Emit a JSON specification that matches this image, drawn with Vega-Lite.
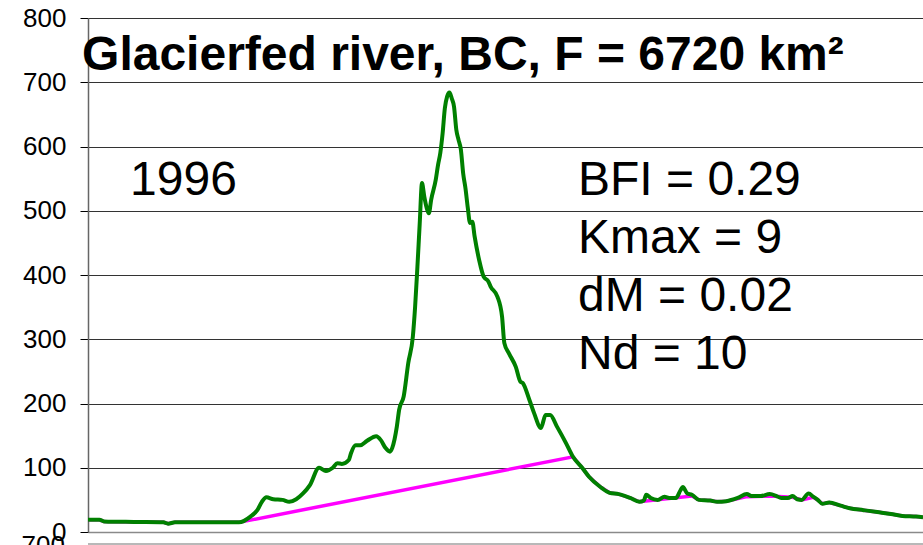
{
  "$schema": "https://vega.github.io/schema/vega-lite/v6.json",
  "width": 835,
  "height": 514,
  "autosize": {"type": "none"},
  "padding": {"left": 88, "top": 18, "right": 0, "bottom": 13},
  "background": "white",
  "config": {
    "view": {"stroke": null},
    "font": "Liberation Sans"
  },
  "datasets": {
    "flow": [
      {"day": 1, "q": 19}, {"day": 6, "q": 19}, {"day": 8, "q": 16.5}, {"day": 21, "q": 15.6},
      {"day": 34, "q": 15}, {"day": 36, "q": 13}, {"day": 39, "q": 15}, {"day": 67, "q": 15},
      {"day": 72, "q": 24}, {"day": 75, "q": 34}, {"day": 77, "q": 47}, {"day": 79, "q": 54},
      {"day": 82, "q": 51}, {"day": 86, "q": 50}, {"day": 89, "q": 47}, {"day": 92, "q": 51},
      {"day": 95, "q": 60}, {"day": 98, "q": 73}, {"day": 102, "q": 100}, {"day": 105, "q": 95},
      {"day": 108, "q": 100}, {"day": 110, "q": 107}, {"day": 112, "q": 106}, {"day": 115, "q": 112},
      {"day": 116, "q": 123}, {"day": 118, "q": 135}, {"day": 120, "q": 135}, {"day": 123, "q": 142},
      {"day": 127, "q": 149}, {"day": 129, "q": 143}, {"day": 131, "q": 131}, {"day": 133, "q": 125},
      {"day": 134, "q": 131}, {"day": 136, "q": 164}, {"day": 137, "q": 190}, {"day": 139, "q": 211},
      {"day": 141, "q": 263}, {"day": 143, "q": 304}, {"day": 144, "q": 351}, {"day": 145, "q": 413},
      {"day": 146, "q": 480}, {"day": 147, "q": 543}, {"day": 148, "q": 522}, {"day": 149, "q": 505},
      {"day": 150, "q": 496}, {"day": 151, "q": 517}, {"day": 153, "q": 548}, {"day": 154, "q": 571},
      {"day": 155, "q": 590}, {"day": 156, "q": 620}, {"day": 157, "q": 660}, {"day": 158, "q": 678},
      {"day": 159, "q": 684}, {"day": 160, "q": 675}, {"day": 161, "q": 662}, {"day": 162, "q": 626},
      {"day": 163, "q": 610}, {"day": 164, "q": 595}, {"day": 165, "q": 558}, {"day": 166, "q": 535},
      {"day": 167, "q": 505}, {"day": 168, "q": 481}, {"day": 169, "q": 483}, {"day": 170, "q": 460},
      {"day": 172, "q": 423}, {"day": 174, "q": 397}, {"day": 176, "q": 390}, {"day": 177, "q": 382},
      {"day": 180, "q": 366}, {"day": 182, "q": 335}, {"day": 183, "q": 294}, {"day": 185, "q": 278},
      {"day": 188, "q": 257}, {"day": 190, "q": 234}, {"day": 191, "q": 232}, {"day": 194, "q": 205},
      {"day": 196, "q": 185}, {"day": 199, "q": 162}, {"day": 201, "q": 182}, {"day": 203, "q": 182},
      {"day": 206, "q": 164}, {"day": 210, "q": 138}, {"day": 213, "q": 117}, {"day": 217, "q": 100},
      {"day": 220, "q": 86}, {"day": 225, "q": 70}, {"day": 229, "q": 61}, {"day": 233, "q": 59},
      {"day": 238, "q": 53}, {"day": 242, "q": 47}, {"day": 244, "q": 49}, {"day": 245, "q": 58},
      {"day": 247, "q": 53}, {"day": 250, "q": 50}, {"day": 253, "q": 55}, {"day": 255, "q": 53},
      {"day": 258, "q": 53}, {"day": 260, "q": 65}, {"day": 261, "q": 70}, {"day": 263, "q": 60},
      {"day": 265, "q": 58}, {"day": 268, "q": 50}, {"day": 273, "q": 49}, {"day": 276, "q": 47},
      {"day": 280, "q": 48}, {"day": 285, "q": 53}, {"day": 289, "q": 59}, {"day": 291, "q": 56},
      {"day": 295, "q": 56}, {"day": 299, "q": 59}, {"day": 302, "q": 56}, {"day": 304, "q": 53},
      {"day": 307, "q": 53}, {"day": 309, "q": 56}, {"day": 311, "q": 51}, {"day": 313, "q": 50},
      {"day": 316, "q": 60}, {"day": 318, "q": 55}, {"day": 320, "q": 50}, {"day": 322, "q": 44},
      {"day": 325, "q": 46}, {"day": 330, "q": 41}, {"day": 334, "q": 37}, {"day": 340, "q": 34},
      {"day": 346, "q": 31}, {"day": 352, "q": 28}, {"day": 357, "q": 25}, {"day": 363, "q": 24},
      {"day": 366, "q": 23}
    ],
    "baseflow": [
      {"day": 1, "q": 19}, {"day": 6, "q": 19}, {"day": 8, "q": 16.5}, {"day": 21, "q": 15.6},
      {"day": 34, "q": 15}, {"day": 36, "q": 13}, {"day": 39, "q": 15}, {"day": 67, "q": 15},
      {"day": 213, "q": 117}, {"day": 217, "q": 100}, {"day": 220, "q": 86}, {"day": 225, "q": 70},
      {"day": 229, "q": 61}, {"day": 233, "q": 59}, {"day": 238, "q": 53}, {"day": 242, "q": 47},
      {"day": 265, "q": 56}, {"day": 268, "q": 50}, {"day": 273, "q": 49}, {"day": 276, "q": 47},
      {"day": 280, "q": 48}, {"day": 289, "q": 55}, {"day": 299, "q": 56}, {"day": 309, "q": 54},
      {"day": 313, "q": 50}, {"day": 318, "q": 54}, {"day": 320, "q": 50}, {"day": 322, "q": 44},
      {"day": 325, "q": 46}, {"day": 330, "q": 41}, {"day": 334, "q": 37}, {"day": 340, "q": 34},
      {"day": 346, "q": 31}, {"day": 352, "q": 28}, {"day": 357, "q": 25}, {"day": 363, "q": 24},
      {"day": 366, "q": 23}
    ],
    "notes": [
      {"label": "Glacierfed river, BC, F = 6720 km²"},
      {"label": "1996"},
      {"label": "BFI = 0.29"},
      {"label": "Kmax = 9"},
      {"label": "dM = 0.02"},
      {"label": "Nd = 10"},
      {"label": "700"}
    ]
  },
  "resolve": {"scale": {"x": "shared", "y": "shared"}},
  "layer": [
    {
      "data": {"name": "baseflow"},
      "mark": {"type": "line", "color": "#ff00ff", "strokeWidth": 3.5, "interpolate": "linear"},
      "encoding": {
        "x": {
          "field": "day", "type": "quantitative",
          "scale": {"domain": [1, 366], "nice": false, "zero": false},
          "axis": {"title": null, "labels": false, "ticks": false, "grid": false, "domain": true, "domainColor": "#8a8a8a", "domainWidth": 1.5}
        },
        "y": {
          "field": "q", "type": "quantitative",
          "scale": {"domain": [0, 800], "nice": false},
          "axis": {
            "title": null,
            "values": [0, 100, 200, 300, 400, 500, 600, 700, 800],
            "labelFont": "Liberation Sans", "labelFontSize": 26, "labelColor": "black",
            "labelPadding": 14, "tickSize": 8, "tickColor": "black", "tickWidth": 1,
            "domainColor": "#666", "domainWidth": 1.5,
            "grid": true,
            "gridColor": {"condition": {"test": "datum.value === 0", "value": "#8a8a8a"}, "value": "#333"},
            "gridWidth": 1
          }
        }
      }
    },
    {
      "data": {"name": "flow"},
      "mark": {"type": "line", "color": "#008000", "strokeWidth": 4, "interpolate": "monotone", "strokeJoin": "round"},
      "encoding": {
        "x": {"field": "day", "type": "quantitative"},
        "y": {"field": "q", "type": "quantitative"}
      }
    },
    {
      "data": {"name": "notes"},
      "transform": [{"filter": "datum.label === '700'"}],
      "mark": {"type": "rule", "color": "#a0a0a0", "strokeWidth": 1.5, "clip": false},
      "encoding": {"y": {"datum": -18.7}}
    },
    {
      "data": {"name": "notes"},
      "transform": [{"filter": "datum.label === '700'"}],
      "mark": {"type": "text", "fontSize": 26, "align": "right", "baseline": "alphabetic", "color": "black", "font": "Liberation Sans"},
      "encoding": {"x": {"datum": -9.05}, "y": {"datum": -33.6}, "text": {"field": "label"}}
    },
    {
      "data": {"name": "notes"},
      "transform": [{"filter": "indexof(datum.label, 'Glacierfed') === 0"}],
      "mark": {"type": "text", "fontSize": 48, "fontWeight": "bold", "align": "left", "baseline": "alphabetic", "color": "black", "font": "Liberation Sans"},
      "encoding": {"x": {"datum": -1.6}, "y": {"datum": 719}, "text": {"field": "label"}}
    },
    {
      "data": {"name": "notes"},
      "transform": [{"filter": "datum.label === '1996'"}],
      "mark": {"type": "text", "fontSize": 48, "align": "left", "baseline": "alphabetic", "color": "black", "font": "Liberation Sans"},
      "encoding": {"x": {"datum": 19.4}, "y": {"datum": 524.5}, "text": {"field": "label"}}
    },
    {
      "data": {"name": "notes"},
      "transform": [{"filter": "datum.label === 'BFI = 0.29'"}],
      "mark": {"type": "text", "fontSize": 48, "align": "left", "baseline": "alphabetic", "color": "black", "font": "Liberation Sans"},
      "encoding": {"x": {"datum": 215.2}, "y": {"datum": 524.5}, "text": {"field": "label"}}
    },
    {
      "data": {"name": "notes"},
      "transform": [{"filter": "datum.label === 'Kmax = 9'"}],
      "mark": {"type": "text", "fontSize": 48, "align": "left", "baseline": "alphabetic", "color": "black", "font": "Liberation Sans"},
      "encoding": {"x": {"datum": 215.2}, "y": {"datum": 434.2}, "text": {"field": "label"}}
    },
    {
      "data": {"name": "notes"},
      "transform": [{"filter": "datum.label === 'dM = 0.02'"}],
      "mark": {"type": "text", "fontSize": 48, "align": "left", "baseline": "alphabetic", "color": "black", "font": "Liberation Sans"},
      "encoding": {"x": {"datum": 215.2}, "y": {"datum": 344}, "text": {"field": "label"}}
    },
    {
      "data": {"name": "notes"},
      "transform": [{"filter": "datum.label === 'Nd = 10'"}],
      "mark": {"type": "text", "fontSize": 48, "align": "left", "baseline": "alphabetic", "color": "black", "font": "Liberation Sans"},
      "encoding": {"x": {"datum": 215.2}, "y": {"datum": 253.7}, "text": {"field": "label"}}
    }
  ]
}
